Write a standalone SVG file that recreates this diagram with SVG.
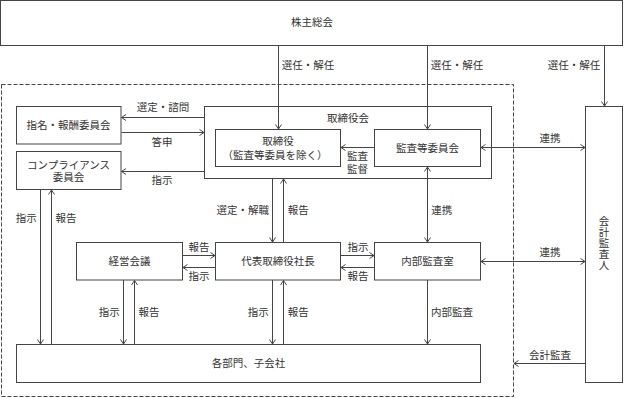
<svg xmlns="http://www.w3.org/2000/svg" width="624" height="398" viewBox="0 0 624 398">
<style>
.box{fill:#fff;stroke:#444;stroke-width:1}
.t{font-family:"Liberation Serif","Noto Sans CJK JP",serif;font-size:10.5px;fill:#333;text-anchor:middle;dominant-baseline:central}
.ln{fill:none;stroke:#444;stroke-width:1}
.a{marker-end:url(#ah)}
.d{marker-end:url(#ah);marker-start:url(#ah)}
</style>
<defs>
<marker id="ah" viewBox="0 0 6 8" refX="5.5" refY="4" markerWidth="6" markerHeight="8" markerUnits="userSpaceOnUse" orient="auto-start-reverse">
<path d="M1,1 L5.5,4 L1,7" fill="none" stroke="#444" stroke-width="1"/>
</marker>
</defs>
<rect x="0" y="0" width="624" height="398" fill="#fff"/>
<g id="scope">
<rect x="1.5" y="84.5" width="512" height="312" fill="none" stroke="#444" stroke-dasharray="4,2"/>
</g>
<g id="n-shareholders">
<rect class="box" x="0.5" y="0.5" width="622" height="45"/>
<text class="t" x="312" y="22">株主総会</text>
</g>
<g id="n-board">
<rect class="box" x="204.5" y="106.5" width="287" height="72"/>
<text class="t" x="348" y="118">取締役会</text>
</g>
<g id="n-nomination">
<rect class="box" x="16.5" y="106.5" width="104.5" height="37.5"/>
<text class="t" x="68.5" y="125.5">指名・報酬委員会</text>
</g>
<g id="n-compliance">
<rect class="box" x="16.5" y="151.5" width="104.5" height="38"/>
<text class="t" x="68.5" y="165.5">コンプライアンス</text>
<text class="t" x="68.5" y="177">委員会</text>
</g>
<g id="n-directors">
<rect class="box" x="215.5" y="129.5" width="125" height="37"/>
<text class="t" x="278" y="141.7">取締役</text>
<text class="t" x="275" y="155">（監査等委員を除く）</text>
</g>
<g id="n-auditcommittee">
<rect class="box" x="374.5" y="129.5" width="106" height="37"/>
<text class="t" x="427.5" y="148">監査等委員会</text>
</g>
<g id="n-management">
<rect class="box" x="76.5" y="242.5" width="106" height="37.5"/>
<text class="t" x="129.5" y="261">経営会議</text>
</g>
<g id="n-president">
<rect class="box" x="215.5" y="242.5" width="125" height="37.5"/>
<text class="t" x="278" y="261">代表取締役社長</text>
</g>
<g id="n-internalaudit">
<rect class="box" x="374.5" y="242.5" width="106" height="37.5"/>
<text class="t" x="427.5" y="261">内部監査室</text>
</g>
<g id="n-departments">
<rect class="box" x="16.5" y="344.5" width="464" height="38"/>
<text class="t" x="248.5" y="363.3">各部門、子会社</text>
</g>
<g id="n-accountant">
<rect class="box" x="585.5" y="106.5" width="37" height="276"/>
<text class="t" x="604" y="221.5">会</text>
<text class="t" x="604" y="232.5">計</text>
<text class="t" x="604" y="243.5">監</text>
<text class="t" x="604" y="254.5">査</text>
<text class="t" x="604" y="265.5">人</text>
</g>
<g id="connectors">
<path class="ln a" d="M278.5,45.5 V129"/>
<path class="ln a" d="M427.5,45.5 V129"/>
<path class="ln a" d="M604.5,45.5 V106"/>
<path class="ln a" d="M204.5,117.5 H121.5"/>
<path class="ln a" d="M121.5,132.5 H204"/>
<path class="ln a" d="M204.5,171.5 H121.5"/>
<path class="ln a" d="M374.5,147.5 H341"/>
<path class="ln d" d="M481,147.5 H585"/>
<path class="ln a" d="M272.5,178.5 V242"/>
<path class="ln a" d="M283.5,242.5 V179"/>
<path class="ln d" d="M427.5,167 V242"/>
<path class="ln a" d="M182.5,255.5 H215"/>
<path class="ln a" d="M215.5,267.5 H183"/>
<path class="ln a" d="M340.5,255.5 H374"/>
<path class="ln a" d="M374.5,267.5 H341"/>
<path class="ln d" d="M481,261.5 H585"/>
<path class="ln a" d="M427.5,280 V344"/>
<path class="ln a" d="M585.5,363.5 H514"/>
<path class="ln a" d="M40.5,189.5 V344"/>
<path class="ln a" d="M51.5,344.5 V190"/>
<path class="ln a" d="M123.5,280 V344"/>
<path class="ln a" d="M134.5,344.5 V280.5"/>
<path class="ln a" d="M272.5,280 V344"/>
<path class="ln a" d="M283.5,344.5 V280.5"/>
<g id="connector-labels">
<text class="t" x="308" y="65">選任・解任</text>
<text class="t" x="457" y="65">選任・解任</text>
<text class="t" x="574" y="65">選任・解任</text>
<text class="t" x="163" y="107">選定・諮問</text>
<text class="t" x="162" y="142.7">答申</text>
<text class="t" x="162" y="180">指示</text>
<text class="t" x="357.5" y="156.7">監査</text>
<text class="t" x="357.5" y="169.5">監督</text>
<text class="t" x="550" y="138.3">連携</text>
<text class="t" x="242.7" y="210.7">選定・解職</text>
<text class="t" x="298.3" y="210.7">報告</text>
<text class="t" x="441.7" y="210.7">連携</text>
<text class="t" x="199" y="247.3">報告</text>
<text class="t" x="199" y="276">指示</text>
<text class="t" x="358" y="247.3">指示</text>
<text class="t" x="358" y="276.5">報告</text>
<text class="t" x="550" y="252.3">連携</text>
<text class="t" x="26.3" y="218.3">指示</text>
<text class="t" x="66" y="218.3">報告</text>
<text class="t" x="109.3" y="312.7">指示</text>
<text class="t" x="149" y="312.7">報告</text>
<text class="t" x="258.3" y="312.7">指示</text>
<text class="t" x="298.3" y="312.7">報告</text>
<text class="t" x="452" y="312.7">内部監査</text>
<text class="t" x="550" y="355">会計監査</text>
</g>
</g>
</svg>
